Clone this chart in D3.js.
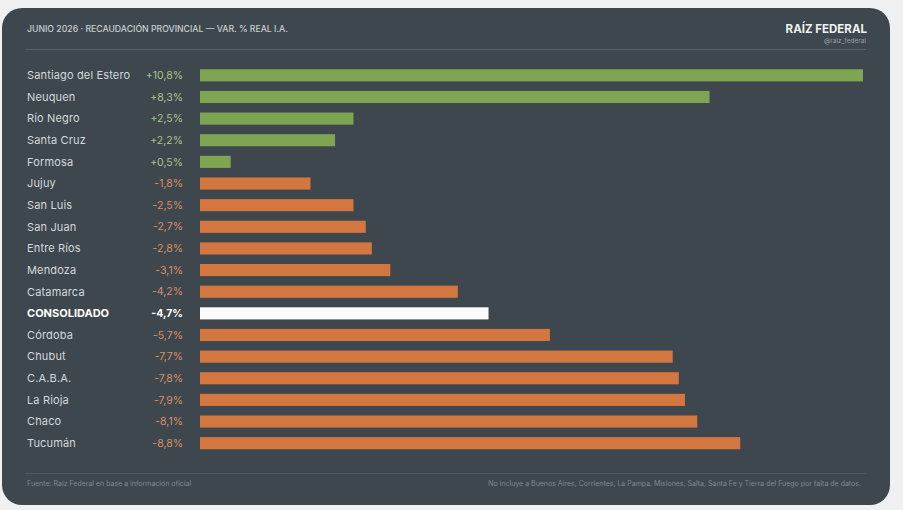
<!DOCTYPE html>
<html>
<head>
<meta charset="utf-8">
<script src="https://cdn.jsdelivr.net/npm/d3@7"></script>
<style>
  body { margin: 0; background: #eef0f1; font-family: Inter, "Noto Sans", sans-serif; }
  svg { display: block; }
</style>
</head>
<body>
<div id="chart"></div>
<script>
// Provinces, top to bottom, and their real yoy change (%)
var provinces = ["Santiago del Estero", "Neuquen", "Río Negro", "Santa Cruz", "Formosa",
  "Jujuy", "San Luis", "San Juan", "Entre Ríos", "Mendoza", "Catamarca", "CONSOLIDADO",
  "Córdoba", "Chubut", "C.A.B.A.", "La Rioja", "Chaco", "Tucumán"];
var changes = [10.8, 8.3, 2.5, 2.2, 0.5, -1.8, -2.5, -2.7, -2.8, -3.1, -4.2, -4.7,
  -5.7, -7.7, -7.8, -7.9, -8.1, -8.8];
var valueLabels = ["+10,8%", "+8,3%", "+2,5%", "+2,2%", "+0,5%", "-1,8%", "-2,5%", "-2,7%",
  "-2,8%", "-3,1%", "-4,2%", "-4,7%", "-5,7%", "-7,7%", "-7,8%", "-7,9%", "-8,1%", "-8,8%"];
var totalRow = "CONSOLIDADO";

var svgWidth = 903;
var svgHeight = 510;

var svg = d3.select("#chart").append("svg")
  .attr("width", svgWidth)
  .attr("height", svgHeight);

// dark card
svg.append("rect")
  .attr("x", 2).attr("y", 8)
  .attr("width", 888).attr("height", 497)
  .attr("rx", 20)
  .attr("fill", "#3e474d");

// header
svg.append("text")
  .attr("x", 27).attr("y", 32)
  .attr("fill", "#c9ced1")
  .attr("font-size", 8.7)
  .attr("font-weight", 500)
  .text("JUNIO 2026 · RECAUDACIÓN PROVINCIAL — VAR. % REAL I.A.");

svg.append("text")
  .attr("x", 867).attr("y", 33)
  .attr("text-anchor", "end")
  .attr("fill", "#eef0f1")
  .attr("font-size", 11.5)
  .attr("font-weight", 700)
  .text("RAÍZ FEDERAL");

svg.append("text")
  .attr("x", 866).attr("y", 43)
  .attr("text-anchor", "end")
  .attr("fill", "#9aa1a6")
  .attr("font-size", 6.5)
  .text("@raiz_federal");

svg.append("line")
  .attr("x1", 25).attr("x2", 866)
  .attr("y1", 49.5).attr("y2", 49.5)
  .attr("stroke", "#56606a")
  .attr("stroke-width", 1);

// scales
var xScale = d3.scaleLinear()
  .domain([0, d3.max(changes, d => Math.abs(d))])
  .range([200, 863]);

var yScale = d3.scaleBand()
  .domain(provinces)
  .range([64.5, 454])
  .paddingInner(0.44)
  .paddingOuter(0.22);

function barColor(name, v) {
  if (name === totalRow) return "#fbfbfb";
  return v >= 0 ? "#7ea552" : "#d4763f";
}
function valueColor(name, v) {
  if (name === totalRow) return "#ffffff";
  return v >= 0 ? "#a9c488" : "#d98f62";
}

var rows = provinces.map((p, i) => ({ name: p, value: changes[i], label: valueLabels[i] }));

var rowGroup = svg.append("g");

rowGroup.selectAll("rect")
  .data(rows)
  .enter()
  .append("rect")
  .attr("x", xScale(0))
  .attr("y", d => yScale(d.name))
  .attr("width", d => xScale(Math.abs(d.value)) - xScale(0))
  .attr("height", yScale.bandwidth())
  .attr("fill", d => barColor(d.name, d.value));

rowGroup.selectAll(".prov")
  .data(rows)
  .enter()
  .append("text")
  .attr("class", "prov")
  .attr("x", 27)
  .attr("y", d => yScale(d.name) + yScale.bandwidth() / 2)
  .attr("dy", "0.35em")
  .attr("fill", d => d.name === totalRow ? "#ffffff" : "#d3d8db")
  .attr("font-size", 11)
  .attr("font-weight", d => d.name === totalRow ? 700 : 400)
  .attr("letter-spacing", d => d.name === totalRow ? 0 : 0.15)
  .text(d => d.name);

rowGroup.selectAll(".val")
  .data(rows)
  .enter()
  .append("text")
  .attr("class", "val")
  .attr("x", 183)
  .attr("y", d => yScale(d.name) + yScale.bandwidth() / 2)
  .attr("dy", "0.35em")
  .attr("text-anchor", "end")
  .attr("fill", d => valueColor(d.name, d.value))
  .attr("font-size", 10.5)
  .attr("font-weight", d => d.name === totalRow ? 700 : 400)
  .text(d => d.label);

// footer
svg.append("line")
  .attr("x1", 25).attr("x2", 866)
  .attr("y1", 473.5).attr("y2", 473.5)
  .attr("stroke", "#4f5962")
  .attr("stroke-width", 1);

svg.append("text")
  .attr("x", 27).attr("y", 486)
  .attr("fill", "#7f878d")
  .attr("font-size", 7)
  .text("Fuente: Raíz Federal en base a información oficial");

svg.append("text")
  .attr("x", 861).attr("y", 486)
  .attr("text-anchor", "end")
  .attr("fill", "#7f878d")
  .attr("font-size", 7)
  .text("No incluye a Buenos Aires, Corrientes, La Pampa, Misiones, Salta, Santa Fe y Tierra del Fuego por falta de datos.");
</script>
</body>
</html>
